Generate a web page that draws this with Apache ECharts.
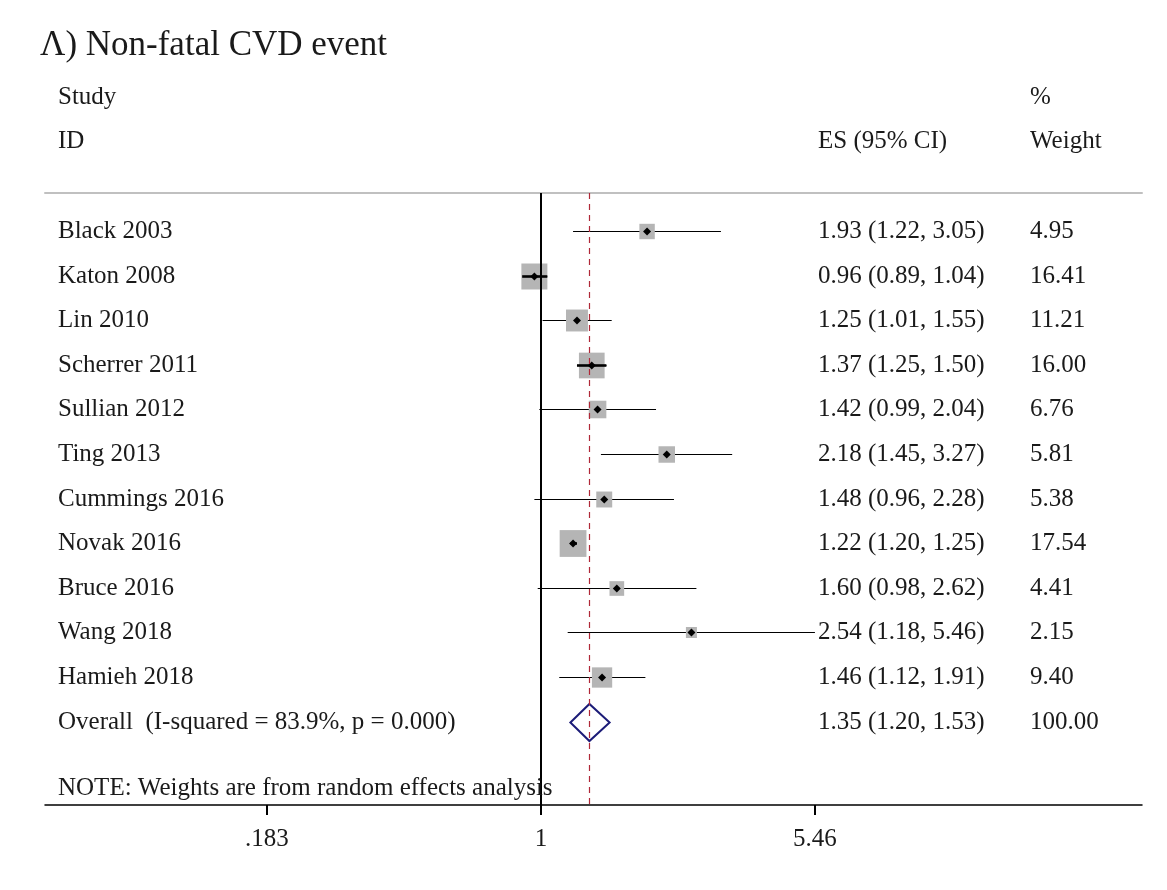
<!DOCTYPE html>
<html>
<head>
<meta charset="utf-8">
<title>Non-fatal CVD event</title>
<script src="https://cdn.jsdelivr.net/npm/echarts@6/dist/echarts.min.js"></script>
<style>
  html, body { margin: 0; padding: 0; background: #fff; }
  #chart { width: 1167px; height: 890px; }
</style>
</head>
<body>
<div id="chart"></div>
<script>
// study data
const studies = ['Black 2003', 'Katon 2008', 'Lin 2010', 'Scherrer 2011', 'Sullian 2012', 'Ting 2013',
  'Cummings 2016', 'Novak 2016', 'Bruce 2016', 'Wang 2018', 'Hamieh 2018'];
const es = [1.93, 0.96, 1.25, 1.37, 1.42, 2.18, 1.48, 1.22, 1.60, 2.54, 1.46];
const ciLow = [1.22, 0.89, 1.01, 1.25, 0.99, 1.45, 0.96, 1.20, 0.98, 1.18, 1.12];
const ciHigh = [3.05, 1.04, 1.55, 1.50, 2.04, 3.27, 2.28, 1.25, 2.62, 5.46, 1.91];
const weights = [4.95, 16.41, 11.21, 16.00, 6.76, 5.81, 5.38, 17.54, 4.41, 2.15, 9.40];

const overallLabel = 'Overall  (I-squared = 83.9%, p = 0.000)';
const overall = [1.35, 1.20, 1.53, 100.00]; // es, low, high, weight

const tickValues = [0.183, 1, 5.46];
const tickLabels = ['.183', '1', '5.46'];

const FONT = 'Liberation Serif';
const TXT = '#1a1a1a';
const FS = 25;

const chart = echarts.init(document.getElementById('chart'));

// rows for the custom series: [row, es, low, high, weight, isOverall]
const rows = studies.map((s, i) => [i, es[i], ciLow[i], ciHigh[i], weights[i], 0]);
rows.push([studies.length, overall[0], overall[1], overall[2], overall[3], 1]);

const ln = Math.log;
const fmt = v => v.toFixed(2);

function renderRow(params, api) {
  const i = api.value(0);
  const e = api.value(1), lo = api.value(2), hi = api.value(3), w = api.value(4);
  const isOverall = api.value(5) === 1;
  const cs = params.coordSys;
  const pE = api.coord([ln(e), i]);
  const pLo = api.coord([ln(lo), i]);
  const pHi = api.coord([ln(hi), i]);
  const y = Math.round(pE[1]) + 0.5; // keep thin lines crisp
  const children = [];

  const label = isOverall ? overallLabel : studies[i];
  const textStyle = { fontFamily: FONT, fontSize: FS, fill: TXT, verticalAlign: 'middle', align: 'left' };
  children.push({ type: 'text', style: Object.assign({ x: cs.x + 13, y: y, text: label }, textStyle) });
  children.push({ type: 'text', style: Object.assign({ x: cs.x + 773, y: y, text: fmt(e) + ' (' + fmt(lo) + ', ' + fmt(hi) + ')' }, textStyle) });
  children.push({ type: 'text', style: Object.assign({ x: cs.x + 985, y: y, text: fmt(w) }, textStyle) });

  if (isOverall) {
    const h = 18.5;
    children.push({
      type: 'polygon',
      shape: { points: [[pLo[0], y], [pE[0], y - h], [pHi[0], y], [pE[0], y + h]] },
      style: { fill: 'none', stroke: '#1c1c78', lineWidth: 2 }
    });
    return { type: 'group', children };
  }

  const side = 5.8 * Math.sqrt(w) + 2.5;
  const ciLine = lw => ({
    type: 'line',
    shape: { x1: pLo[0], y1: y, x2: pHi[0], y2: y },
    style: { stroke: '#000', lineWidth: lw }
  });
  children.push(ciLine(1));
  children.push({
    type: 'rect',
    shape: { x: pE[0] - side / 2, y: y - side / 2, width: side, height: side },
    style: { fill: '#b5b5b5' }
  });
  // short intervals are drawn again on top of the box
  if (pHi[0] - pLo[0] < side * 1.25) children.push(ciLine(2.6));
  const d = 4;
  children.push({
    type: 'polygon',
    shape: { points: [[pE[0] - d, y], [pE[0], y - d], [pE[0] + d, y], [pE[0], y + d]] },
    style: { fill: '#000' }
  });
  return { type: 'group', children };
}

const xMin = -3.073, xMax = 3.724;

const option = {
  animation: false,
  backgroundColor: '#fff',
  textStyle: { fontFamily: FONT },
  grid: { left: 45, right: 25, top: 193, bottom: 85 },
  xAxis: [
    {
      type: 'value',
      min: xMin,
      max: xMax,
      position: 'bottom',
      splitLine: { show: false },
      axisLine: { onZero: false, lineStyle: { color: '#000', width: 1.5 } },
      axisTick: {
        customValues: tickValues.map(v => ln(v)),
        length: 10,
        lineStyle: { color: '#000', width: 2 }
      },
      axisLabel: {
        customValues: tickValues.map(v => ln(v)),
        margin: 22,
        fontFamily: FONT,
        fontSize: FS,
        color: TXT,
        formatter: v => {
          let best = 0;
          tickValues.forEach((t, k) => {
            if (Math.abs(ln(t) - v) < Math.abs(ln(tickValues[best]) - v)) best = k;
          });
          return tickLabels[best];
        }
      }
    },
    {
      type: 'value',
      min: xMin,
      max: xMax,
      position: 'top',
      splitLine: { show: false },
      axisLine: { onZero: false, lineStyle: { color: '#c0c0c0', width: 2 } },
      axisTick: { show: false },
      axisLabel: { show: false }
    }
  ],
  yAxis: {
    type: 'value',
    min: -0.852,
    max: 12.87,
    inverse: true,
    show: false
  },
  series: [
    {
      type: 'custom',
      renderItem: renderRow,
      data: rows,
      clip: false,
      z: 3,
      markLine: {
        silent: true,
        symbol: 'none',
        label: { show: false },
        data: [
          { xAxis: 0, lineStyle: { color: '#000', width: 2, type: 'solid' } },
          { xAxis: ln(overall[0]), lineStyle: { color: '#b02838', width: 1.2, type: [6, 5] } }
        ]
      }
    }
  ],
  graphic: [
    { type: 'text', left: 40, top: 28, style: { text: 'Λ) Non-fatal CVD event', fontFamily: FONT, fontSize: 35, fill: TXT } },
    { type: 'text', left: 58, top: 85, style: { text: 'Study', fontFamily: FONT, fontSize: FS, fill: TXT } },
    { type: 'text', left: 58, top: 129, style: { text: 'ID', fontFamily: FONT, fontSize: FS, fill: TXT } },
    { type: 'text', left: 818, top: 129, style: { text: 'ES (95% CI)', fontFamily: FONT, fontSize: FS, fill: TXT } },
    { type: 'text', left: 1030, top: 85, style: { text: '%', fontFamily: FONT, fontSize: FS, fill: TXT } },
    { type: 'text', left: 1030, top: 129, style: { text: 'Weight', fontFamily: FONT, fontSize: FS, fill: TXT } },
    { type: 'text', left: 58, top: 776, z: 10, style: { text: 'NOTE: Weights are from random effects analysis', fontFamily: FONT, fontSize: 25, fill: TXT } }
  ]
};

chart.setOption(option);
</script>
</body>
</html>
